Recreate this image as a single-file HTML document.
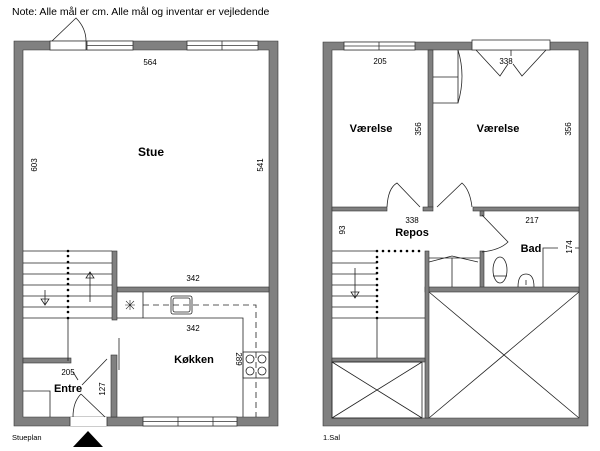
<!DOCTYPE html>
<html><head><meta charset="utf-8"><style>
body{margin:0;background:#fff;width:600px;height:451px;overflow:hidden}
svg{display:block}
text{font-family:"Liberation Sans",sans-serif;fill:#000}
.b{font-weight:bold;font-size:11px}
.s{font-size:8px}
</style></head><body>
<svg width="600" height="451" viewBox="0 0 600 451" xmlns="http://www.w3.org/2000/svg">
<text x="12" y="15" style="font-size:10.5px">Note: Alle mål er cm. Alle mål og inventar er vejledende</text>
<!-- LEFT PLAN walls -->
<g fill="#808080" stroke="#333" stroke-width="0.6">
<path d="M14 41 H278 V426 H14 Z M23 50 V417 H269 V50 Z" fill-rule="evenodd"/>
<rect x="117" y="287" width="152" height="5"/>
<rect x="112" y="251" width="5" height="69"/>
<rect x="23" y="358" width="48" height="5"/>
<rect x="111" y="355" width="6" height="62"/>
</g>
<g fill="#fff" stroke="#333" stroke-width="0.8">
<rect x="50" y="41" width="36" height="9"/>
<rect x="87" y="41" width="46" height="9"/><line x1="87" y1="45.5" x2="133" y2="45.5"/>
<rect x="187" y="41" width="71" height="9"/><line x1="187" y1="45.5" x2="258" y2="45.5"/><line x1="222" y1="41" x2="222" y2="50"/>
<rect x="70" y="417" width="37" height="9" stroke="none"/>
<line x1="70" y1="417" x2="70" y2="426"/><line x1="107" y1="417" x2="107" y2="426"/>
<rect x="143" y="417" width="94" height="9"/><line x1="143" y1="421.5" x2="237" y2="421.5"/><line x1="178" y1="417" x2="178" y2="426"/><line x1="213" y1="417" x2="213" y2="426"/>
</g>
<g fill="none" stroke="#222" stroke-width="0.8">
<path d="M52 41 L76 18 Q86 28 86 41"/>
<path d="M23 251H112M23 263H112M23 274H112M23 285H112M23 296H112M23 307H112M23 318H112"/>
<line x1="68" y1="318" x2="68" y2="361"/>
<path d="M45 290 V305 M41 299 L45 305 L49 299 Z"/>
<path d="M90 302 V272 M86 278 L90 272 L94 278 Z"/>
<path d="M117 318 H243 V417 M143 292 V318"/>
<path d="M125 305 H135 M130 300 V310 M126 301 L134 309 M134 301 L126 309" stroke-width="0.6"/>
<rect x="171" y="296" width="21" height="18" rx="2"/><rect x="173" y="298" width="17" height="14" rx="2"/>
<path d="M143 305 H256 V417" stroke-dasharray="6,4"/>
<rect x="243" y="352" width="26" height="26"/>
<circle cx="250" cy="359" r="4"/><circle cx="262" cy="359" r="4"/><circle cx="250" cy="371" r="4"/><circle cx="262" cy="371" r="4"/>
<line x1="119" y1="338" x2="119" y2="370"/>
<path d="M107 359 L82 385"/>
<path d="M81 394 L105 417"/><path d="M81 394 Q73 402 73 417"/>
<path d="M23 391 H50 V417"/>
<path d="M73 372 L78 380"/>
</g>
<g fill="#000">
<circle cx="68" cy="251" r="1.3"/><circle cx="68" cy="256" r="1.3"/><circle cx="68" cy="262" r="1.3"/><circle cx="68" cy="268" r="1.3"/><circle cx="68" cy="273" r="1.3"/><circle cx="68" cy="279" r="1.3"/><circle cx="68" cy="284" r="1.3"/><circle cx="68" cy="290" r="1.3"/><circle cx="68" cy="296" r="1.3"/><circle cx="68" cy="301" r="1.3"/><circle cx="68" cy="307" r="1.3"/><circle cx="68" cy="312" r="1.3"/><circle cx="68" cy="318" r="1.3"/>
<polygon points="73,447 88,431 103,447"/>
</g>
<text x="151" y="156" class="b" text-anchor="middle" style="font-size:12px">Stue</text>
<text x="150" y="65" class="s" text-anchor="middle">564</text>
<text class="s" transform="translate(37,165) rotate(-90)" text-anchor="middle">603</text>
<text class="s" transform="translate(263,165) rotate(-90)" text-anchor="middle">541</text>
<text x="193" y="281" class="s" text-anchor="middle">342</text>
<text x="193" y="331" class="s" text-anchor="middle">342</text>
<text x="194" y="363" class="b" text-anchor="middle">Køkken</text>
<text class="s" transform="translate(236,359) rotate(90)" text-anchor="middle">289</text>
<text x="68" y="375" class="s" text-anchor="middle">205</text>
<text x="68" y="392" class="b" text-anchor="middle">Entre</text>
<text class="s" transform="translate(105,389) rotate(-90)" text-anchor="middle">127</text>
<text x="12" y="440" style="font-size:7.5px">Stueplan</text>

<!-- RIGHT PLAN -->
<g fill="#808080" stroke="#333" stroke-width="0.6">
<path d="M323 42 H588 V426 H323 Z M332 50 V418 H579 V50 Z" fill-rule="evenodd"/>
<rect x="428" y="50" width="5" height="157"/>
<rect x="332" y="207" width="55" height="4"/>
<rect x="423" y="207" width="10" height="4"/>
<rect x="473" y="207" width="106" height="4"/>
<rect x="480" y="211" width="4" height="5"/>
<rect x="480" y="251" width="4" height="40"/>
<rect x="425" y="287" width="154" height="5"/>
<rect x="425" y="251" width="4" height="167"/>
<rect x="332" y="358" width="93" height="4"/>
</g>
<g fill="#fff" stroke="#333" stroke-width="0.8">
<rect x="344" y="42" width="71" height="8"/><line x1="344" y1="46" x2="415" y2="46"/><line x1="379" y1="42" x2="379" y2="50"/>
<rect x="472" y="40" width="78" height="10"/>
</g>
<g fill="none" stroke="#222" stroke-width="0.8">
<path d="M476 50 L500 76 L508 64 M546 50 L522 76 L513 64 M511 50 V56"/>
<path d="M433 77 H458 M458 50 V103 H433"/><path d="M458 50 Q466 76 458 103"/>
<path d="M387 207 Q388 188 397 183 L420 207"/>
<path d="M437 207 L462 183 Q470 190 472 207"/>
<path d="M482 215 L508 242 Q500 250 482 252"/>
<path d="M332 251H377M332 263H377M332 274H377M332 285H377M332 296H377M332 307H377M332 318H425"/>
<line x1="377" y1="318" x2="377" y2="358"/>
<path d="M355 268 V298 M351 292 L355 298 L359 292 Z"/>
<rect x="332" y="362" width="90" height="56"/><path d="M332 362 L422 418 M422 362 L332 418"/>
<path d="M429 292 L579 418 M579 292 L429 418"/>
<path d="M429 258 H480 M452 258 V287 M429 262 L452 256 L478 262"/>
<ellipse cx="500" cy="270" rx="7" ry="13"/><line x1="493" y1="276" x2="507" y2="276"/>
<path d="M518 287 Q518 274 526 274 Q534 274 534 287"/><line x1="526" y1="280" x2="526" y2="285"/>
<path d="M543 287 V248 H558 M575 248 H579"/>
</g>
<g fill="#000">
<circle cx="377" cy="251" r="1.3"/><circle cx="377" cy="257" r="1.3"/><circle cx="377" cy="262" r="1.3"/><circle cx="377" cy="268" r="1.3"/><circle cx="377" cy="273" r="1.3"/><circle cx="377" cy="279" r="1.3"/><circle cx="377" cy="285" r="1.3"/><circle cx="377" cy="290" r="1.3"/><circle cx="377" cy="296" r="1.3"/><circle cx="377" cy="301" r="1.3"/><circle cx="377" cy="307" r="1.3"/><circle cx="377" cy="312" r="1.3"/><circle cx="377" cy="318" r="1.3"/>
<circle cx="383" cy="251" r="1.3"/><circle cx="389" cy="251" r="1.3"/><circle cx="395" cy="251" r="1.3"/><circle cx="401" cy="251" r="1.3"/><circle cx="407" cy="251" r="1.3"/><circle cx="413" cy="251" r="1.3"/><circle cx="419" cy="251" r="1.3"/>
</g>
<text x="380" y="64" class="s" text-anchor="middle">205</text>
<text x="506" y="64" class="s" text-anchor="middle">338</text>
<text x="371" y="132" class="b" text-anchor="middle">Værelse</text>
<text x="498" y="132" class="b" text-anchor="middle">Værelse</text>
<text class="s" transform="translate(421,129) rotate(-90)" text-anchor="middle">356</text>
<text class="s" transform="translate(571,129) rotate(-90)" text-anchor="middle">356</text>
<text x="412" y="223" class="s" text-anchor="middle">338</text>
<text x="412" y="236" class="b" text-anchor="middle">Repos</text>
<text class="s" transform="translate(345,230) rotate(-90)" text-anchor="middle">93</text>
<text x="532" y="223" class="s" text-anchor="middle">217</text>
<text x="531" y="252" class="b" text-anchor="middle">Bad</text>
<text class="s" transform="translate(572,247) rotate(-90)" text-anchor="middle">174</text>
<text x="323" y="440" style="font-size:7.5px">1.Sal</text>
</svg>
</body></html>
